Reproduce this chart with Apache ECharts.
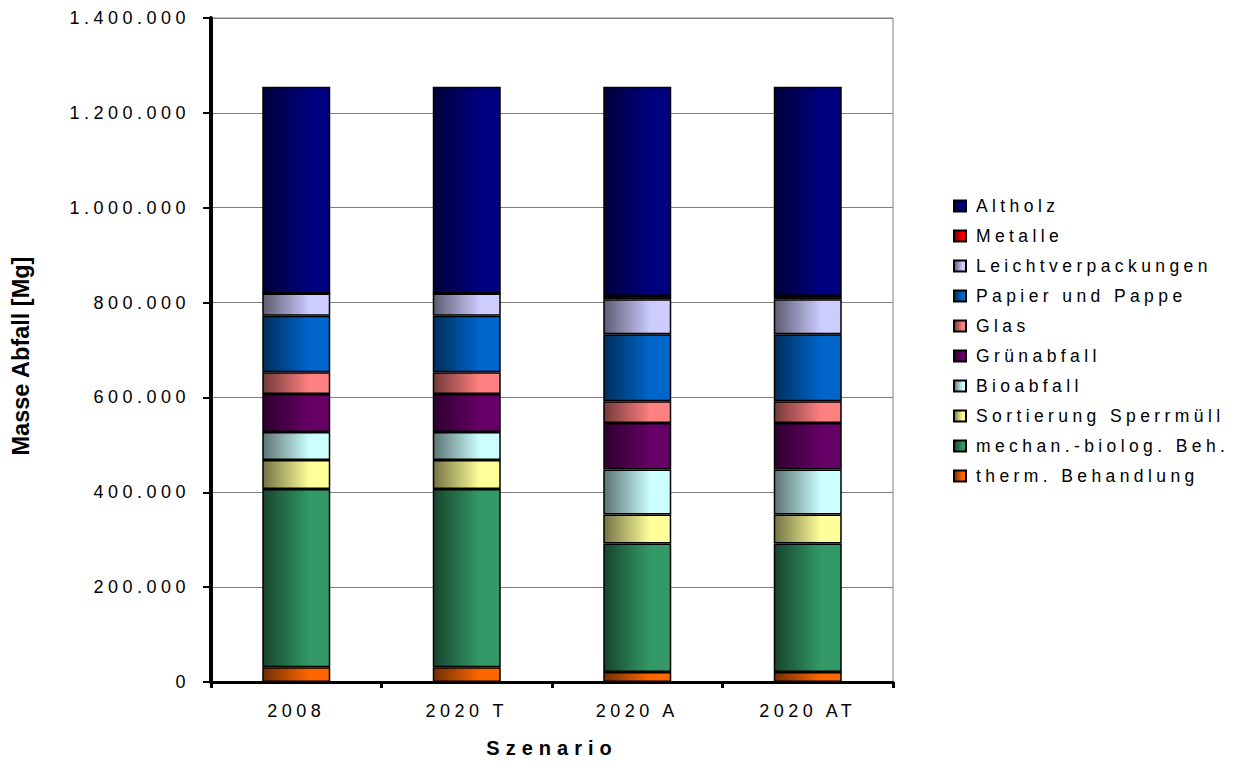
<!DOCTYPE html>
<html>
<head>
<meta charset="utf-8">
<script src="https://cdn.jsdelivr.net/npm/echarts@6/dist/echarts.min.js"></script>
<style>
html, body { margin: 0; padding: 0; background: #fff; }
#chart { width: 1237px; height: 764px; }
#chart svg text { letter-spacing: 4.5px; }
#chart svg text[style*="bold"] { letter-spacing: 6px; }
#chart svg text[style*="900"] { letter-spacing: 0px; }
#chart svg text[style*="17.5px"] { letter-spacing: 4.4px; }
</style>
</head>
<body>
<div id="chart"></div>
<script>
const categories = ['2008', '2020 T', '2020 A', '2020 AT'];
const yTicks = [0, 200000, 400000, 600000, 800000, 1000000, 1200000, 1400000];

// stacked from bottom to top
const thermBehandlung      = [31000, 31000, 21000, 21000];
const mechanBiologBeh      = [376000, 376000, 271000, 271000];
const sortierungSperrmuell = [61000, 61000, 61000, 61000];
const bioabfall            = [59000, 59000, 95000, 95000];
const gruenabfall          = [80000, 80000, 98000, 98000];
const glas                 = [46000, 46000, 46000, 46000];
const papierUndPappe       = [119000, 119000, 141000, 141000];
const leichtverpackungen   = [47000, 47000, 74000, 74000];
const metalle              = [0, 0, 7000, 7000];
const altholz              = [436000, 436000, 441000, 441000];

const seriesDefs = [
  ['therm. Behandlung', thermBehandlung, '#FF6600'],
  ['mechan.-biolog. Beh.', mechanBiologBeh, '#339966'],
  ['Sortierung Sperrmüll', sortierungSperrmuell, '#FFFF99'],
  ['Bioabfall', bioabfall, '#CCFFFF'],
  ['Grünabfall', gruenabfall, '#660066'],
  ['Glas', glas, '#FF8080'],
  ['Papier und Pappe', papierUndPappe, '#0066CC'],
  ['Leichtverpackungen', leichtverpackungen, '#CCCCFF'],
  ['Metalle', metalle, '#FF0000'],
  ['Altholz', altholz, '#000080']
];

function darken(hex, f) {
  const n = parseInt(hex.slice(1), 16);
  const r = Math.round(((n >> 16) & 255) * f);
  const g = Math.round(((n >> 8) & 255) * f);
  const b = Math.round((n & 255) * f);
  return 'rgb(' + r + ',' + g + ',' + b + ')';
}
function grad(hex) {
  return new echarts.graphic.LinearGradient(0, 0, 1, 0, [
    { offset: 0, color: darken(hex, 0.45) },
    { offset: 0.7, color: hex },
    { offset: 1, color: hex }
  ]);
}

function fmt(v) {
  return String(v).replace(/\B(?=(\d{3})+(?!\d))/g, '.');
}

const font = "'Liberation Sans', Arial, sans-serif";

const chart = echarts.init(document.getElementById('chart'), null, { renderer: 'svg' });
chart.setOption({
  backgroundColor: '#ffffff',
  animation: false,
  grid: {
    left: 211, right: 344, top: 18, bottom: 82,
    show: true, borderColor: '#808080', borderWidth: 1
  },
  legend: {
    orient: 'vertical',
    left: 953, top: 197,
    padding: 0,
    itemWidth: 12, itemHeight: 11, itemGap: 12,
    icon: 'rect',
    data: seriesDefs.map(d => d[0]).reverse(),
    textStyle: { fontFamily: font, fontSize: 17.5, color: '#000', lineHeight: 18, padding: [0, 0, 0, 5] }
  },
  xAxis: {
    type: 'category',
    data: categories,
    name: 'Szenario',
    nameLocation: 'middle',
    nameGap: 56,
    nameTextStyle: { fontFamily: font, fontSize: 20, fontWeight: 'bold', color: '#000' },
    axisLine: { lineStyle: { color: '#000', width: 3 } },
    axisTick: { show: true, length: 6, lineStyle: { color: '#000', width: 3 } },
    axisLabel: { fontFamily: font, fontSize: 18, color: '#000', margin: 20 }
  },
  yAxis: {
    type: 'value',
    min: 0, max: 1400000, interval: 200000,
    name: 'Masse Abfall [Mg]',
    nameLocation: 'middle',
    nameGap: 178,
    nameTextStyle: { fontFamily: font, fontSize: 23.5, fontWeight: 900, color: '#000', padding: [0, 12, 0, 0] },
    axisLine: { show: true, lineStyle: { color: '#000', width: 4 } },
    axisTick: { show: true, length: 8, lineStyle: { color: '#000', width: 2 } },
    axisLabel: {
      fontFamily: font, fontSize: 18, color: '#000', margin: 21,
      formatter: v => yTicks.indexOf(v) >= 0 ? fmt(v) : ''
    },
    splitLine: { lineStyle: { color: '#808080', width: 1 } }
  },
  series: seriesDefs.map(d => ({
    name: d[0],
    type: 'bar',
    stack: 'total',
    data: d[1],
    barWidth: 68,
    itemStyle: { color: grad(d[2]), borderColor: '#000', borderWidth: 1.5 }
  }))
});
</script>
</body>
</html>
